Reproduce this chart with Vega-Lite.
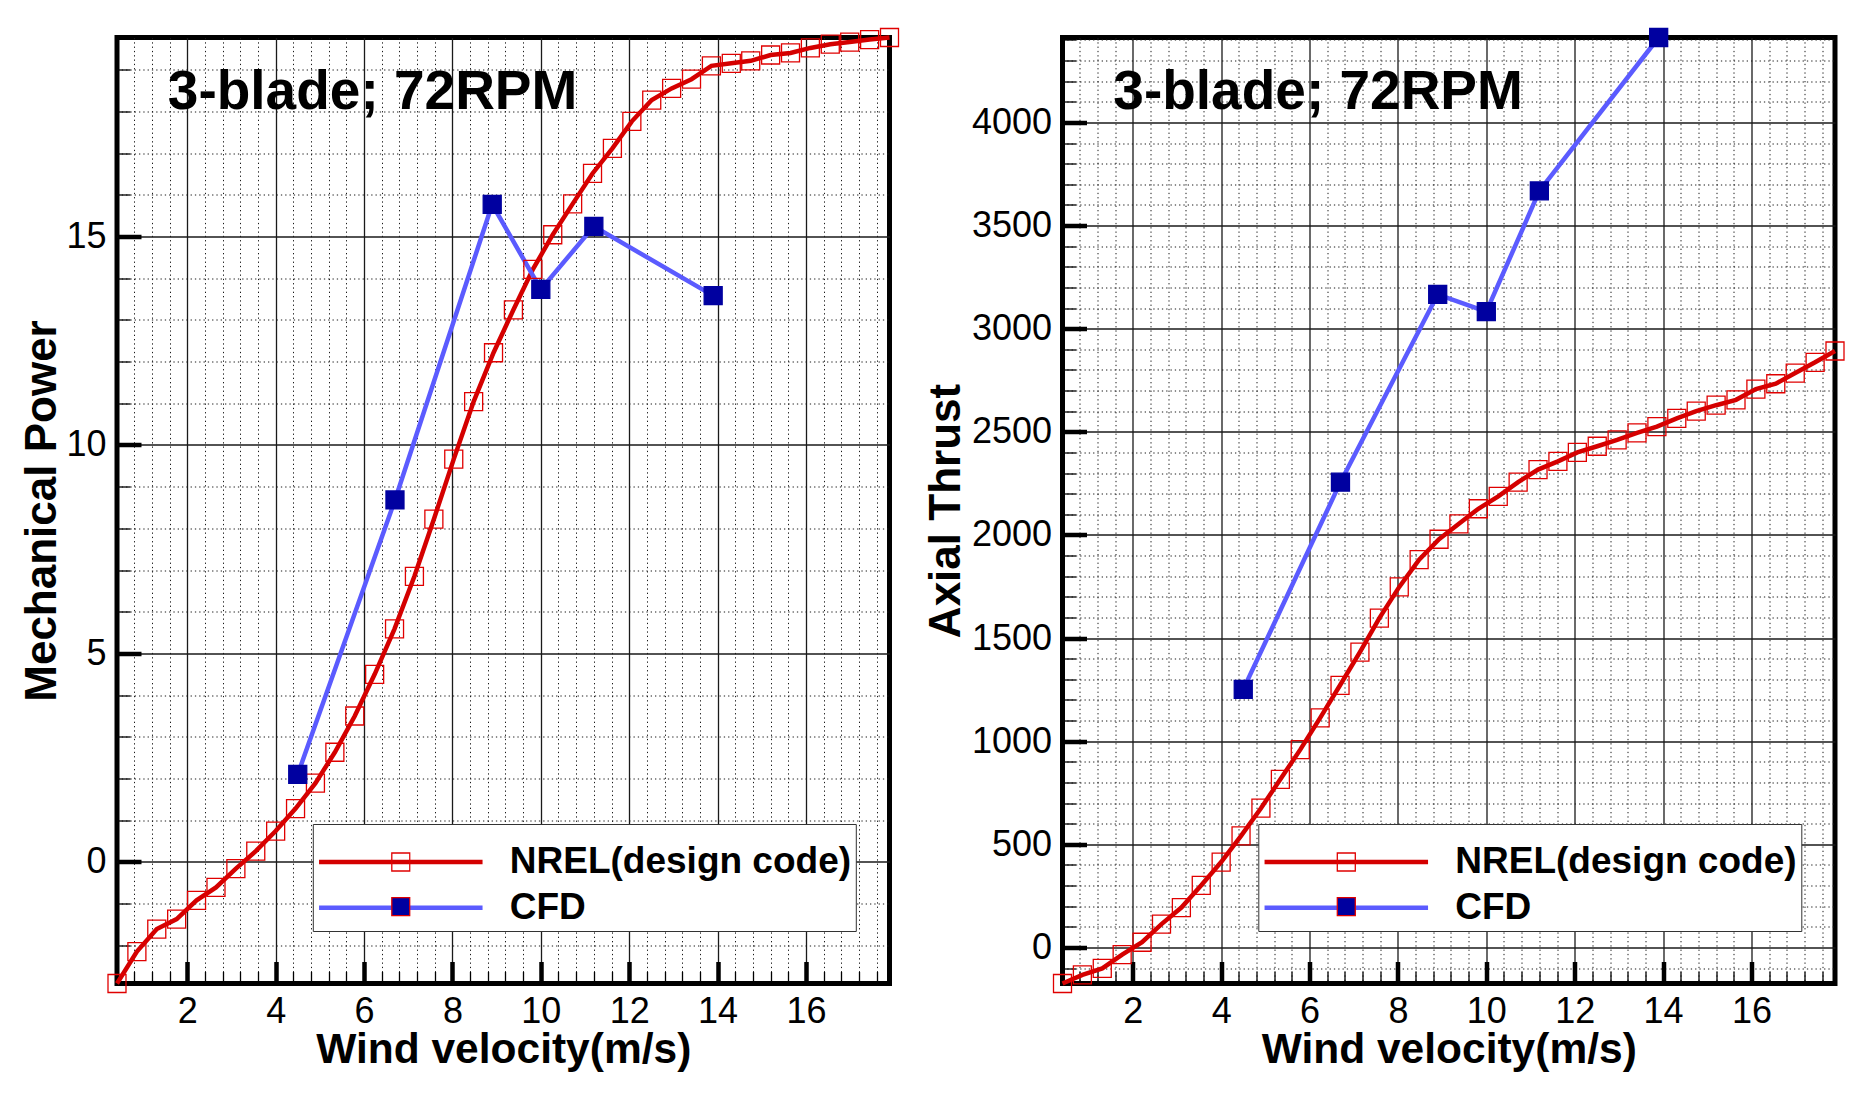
{
  "$schema": "https://vega.github.io/schema/vega-lite/v6.json",
  "background": "white",
  "padding": {"left": 17, "top": 22.5, "right": 0, "bottom": 0},
  "config": {
    "font": "Liberation Sans",
    "view": {"stroke": "black", "strokeWidth": 5},
    "axis": {
      "domain": false,
      "labelFont": "Liberation Sans",
      "labelFontSize": 36,
      "labelColor": "black",
      "titleFont": "Liberation Sans",
      "titleFontWeight": "bold",
      "titleColor": "black",
      "tickColor": "black",
      "labelOverlap": false,
      "labelFlush": false,
      "labelBound": false
    }
  },
  "datasets": {
    "power": [
      {"x": 0.41, "y": -2.915, "series": "NREL(design code)"},
      {"x": 0.86, "y": -2.15, "series": "NREL(design code)"},
      {"x": 1.31, "y": -1.61, "series": "NREL(design code)"},
      {"x": 1.76, "y": -1.37, "series": "NREL(design code)"},
      {"x": 2.21, "y": -0.92, "series": "NREL(design code)"},
      {"x": 2.65, "y": -0.61, "series": "NREL(design code)"},
      {"x": 3.10, "y": -0.16, "series": "NREL(design code)"},
      {"x": 3.55, "y": 0.26, "series": "NREL(design code)"},
      {"x": 4.00, "y": 0.74, "series": "NREL(design code)"},
      {"x": 4.45, "y": 1.28, "series": "NREL(design code)"},
      {"x": 4.90, "y": 1.89, "series": "NREL(design code)"},
      {"x": 5.34, "y": 2.63, "series": "NREL(design code)"},
      {"x": 5.79, "y": 3.50, "series": "NREL(design code)"},
      {"x": 6.24, "y": 4.50, "series": "NREL(design code)"},
      {"x": 6.69, "y": 5.59, "series": "NREL(design code)"},
      {"x": 7.14, "y": 6.85, "series": "NREL(design code)"},
      {"x": 7.58, "y": 8.22, "series": "NREL(design code)"},
      {"x": 8.03, "y": 9.66, "series": "NREL(design code)"},
      {"x": 8.48, "y": 11.04, "series": "NREL(design code)"},
      {"x": 8.93, "y": 12.21, "series": "NREL(design code)"},
      {"x": 9.38, "y": 13.24, "series": "NREL(design code)"},
      {"x": 9.82, "y": 14.21, "series": "NREL(design code)"},
      {"x": 10.27, "y": 15.04, "series": "NREL(design code)"},
      {"x": 10.72, "y": 15.78, "series": "NREL(design code)"},
      {"x": 11.17, "y": 16.51, "series": "NREL(design code)"},
      {"x": 11.62, "y": 17.11, "series": "NREL(design code)"},
      {"x": 12.06, "y": 17.76, "series": "NREL(design code)"},
      {"x": 12.51, "y": 18.27, "series": "NREL(design code)"},
      {"x": 12.96, "y": 18.55, "series": "NREL(design code)"},
      {"x": 13.41, "y": 18.77, "series": "NREL(design code)"},
      {"x": 13.86, "y": 19.09, "series": "NREL(design code)"},
      {"x": 14.31, "y": 19.15, "series": "NREL(design code)"},
      {"x": 14.75, "y": 19.21, "series": "NREL(design code)"},
      {"x": 15.20, "y": 19.35, "series": "NREL(design code)"},
      {"x": 15.65, "y": 19.40, "series": "NREL(design code)"},
      {"x": 16.10, "y": 19.52, "series": "NREL(design code)"},
      {"x": 16.55, "y": 19.61, "series": "NREL(design code)"},
      {"x": 16.99, "y": 19.66, "series": "NREL(design code)"},
      {"x": 17.44, "y": 19.72, "series": "NREL(design code)"},
      {"x": 17.89, "y": 19.77, "series": "NREL(design code)"},
      {"x": 4.5, "y": 2.10, "series": "CFD"},
      {"x": 6.7, "y": 8.68, "series": "CFD"},
      {"x": 8.9, "y": 15.77, "series": "CFD"},
      {"x": 10.0, "y": 13.73, "series": "CFD"},
      {"x": 11.2, "y": 15.24, "series": "CFD"},
      {"x": 13.9, "y": 13.58, "series": "CFD"}
    ],
    "thrust": [
      {"x": 0.41, "y": -175, "series": "NREL(design code)"},
      {"x": 0.86, "y": -133, "series": "NREL(design code)"},
      {"x": 1.31, "y": -102, "series": "NREL(design code)"},
      {"x": 1.76, "y": -35, "series": "NREL(design code)"},
      {"x": 2.21, "y": 25, "series": "NREL(design code)"},
      {"x": 2.65, "y": 113, "series": "NREL(design code)"},
      {"x": 3.10, "y": 193, "series": "NREL(design code)"},
      {"x": 3.55, "y": 301, "series": "NREL(design code)"},
      {"x": 4.00, "y": 414, "series": "NREL(design code)"},
      {"x": 4.45, "y": 541, "series": "NREL(design code)"},
      {"x": 4.90, "y": 675, "series": "NREL(design code)"},
      {"x": 5.34, "y": 815, "series": "NREL(design code)"},
      {"x": 5.79, "y": 959, "series": "NREL(design code)"},
      {"x": 6.24, "y": 1113, "series": "NREL(design code)"},
      {"x": 6.69, "y": 1271, "series": "NREL(design code)"},
      {"x": 7.14, "y": 1432, "series": "NREL(design code)"},
      {"x": 7.58, "y": 1597, "series": "NREL(design code)"},
      {"x": 8.03, "y": 1748, "series": "NREL(design code)"},
      {"x": 8.48, "y": 1880, "series": "NREL(design code)"},
      {"x": 8.93, "y": 1979, "series": "NREL(design code)"},
      {"x": 9.38, "y": 2054, "series": "NREL(design code)"},
      {"x": 9.82, "y": 2127, "series": "NREL(design code)"},
      {"x": 10.27, "y": 2187, "series": "NREL(design code)"},
      {"x": 10.72, "y": 2256, "series": "NREL(design code)"},
      {"x": 11.17, "y": 2317, "series": "NREL(design code)"},
      {"x": 11.62, "y": 2357, "series": "NREL(design code)"},
      {"x": 12.06, "y": 2400, "series": "NREL(design code)"},
      {"x": 12.51, "y": 2430, "series": "NREL(design code)"},
      {"x": 12.96, "y": 2461, "series": "NREL(design code)"},
      {"x": 13.41, "y": 2495, "series": "NREL(design code)"},
      {"x": 13.86, "y": 2525, "series": "NREL(design code)"},
      {"x": 14.31, "y": 2565, "series": "NREL(design code)"},
      {"x": 14.75, "y": 2600, "series": "NREL(design code)"},
      {"x": 15.20, "y": 2629, "series": "NREL(design code)"},
      {"x": 15.65, "y": 2655, "series": "NREL(design code)"},
      {"x": 16.10, "y": 2707, "series": "NREL(design code)"},
      {"x": 16.55, "y": 2733, "series": "NREL(design code)"},
      {"x": 16.99, "y": 2785, "series": "NREL(design code)"},
      {"x": 17.44, "y": 2837, "series": "NREL(design code)"},
      {"x": 17.89, "y": 2892, "series": "NREL(design code)"},
      {"x": 4.5, "y": 1251, "series": "CFD"},
      {"x": 6.7, "y": 2256, "series": "CFD"},
      {"x": 8.9, "y": 3166, "series": "CFD"},
      {"x": 10.0, "y": 3083, "series": "CFD"},
      {"x": 11.2, "y": 3668, "series": "CFD"},
      {"x": 13.9, "y": 4412, "series": "CFD"}
    ]
  },
  "spacing": 172.5,
  "bounds": "flush",
  "resolve": {
    "scale": {"stroke": "independent", "fill": "independent"},
    "legend": {"stroke": "independent", "fill": "independent"}
  },
  "hconcat": [
    {
      "width": 772.5,
      "height": 946,
      "data": {"name": "power"},
      "layer": [
        {
          "mark": {"type": "line", "strokeWidth": 4.5},
          "encoding": {
            "x": {"field": "x", "type": "quantitative", "scale": {"domain": [0.41, 17.89], "nice": false, "zero": false},
              "axis": {"values": [2, 4, 6, 8, 10, 12, 14, 16], "format": "d", "grid": true, "gridColor": "#1a1a1a", "gridWidth": 1.3, "tickSize": -22, "tickWidth": 4.5, "labelPadding": 33, "title": "Wind velocity(m/s)", "titleFontSize": 42.5, "titleX": 386.25, "titleY": 79, "titleBaseline": "alphabetic", "titleAlign": "center", "titleAngle": 0}},
            "y": {"field": "y", "type": "quantitative", "scale": {"domain": [-2.915, 19.77], "nice": false, "zero": false},
              "axis": {"values": [0, 5, 10, 15], "format": "d", "grid": true, "gridColor": "#1a1a1a", "gridWidth": 1.3, "tickSize": -24, "tickWidth": 4.5, "labelPadding": 35, "title": "Mechanical Power", "titleFontSize": 44, "titleX": -61.7, "titleY": 473, "titleAngle": 270, "titleBaseline": "alphabetic", "titleAlign": "center"}},
            "stroke": {"field": "series", "type": "nominal", "scale": {"domain": ["NREL(design code)", "CFD"], "range": ["#d40000", "#5b5bff"]},
              "legend": {"orient": "none", "legendX": 195.8, "legendY": 786.5, "direction": "vertical", "title": " ", "titleFontSize": 10, "titlePadding": 5.5, "symbolType": "stroke", "symbolSize": 26732, "symbolStrokeWidth": 4.5, "symbolOpacity": 1, "labelFont": "Liberation Sans", "labelFontSize": 37, "labelFontWeight": "bold", "labelColor": "black", "labelLimit": 1000, "labelOffset": 25, "padding": 4, "rowPadding": 7.7, "clipHeight": 37, "fillColor": "white", "strokeColor": "#333333", "encode": {"legend": {"strokeWidth": {"value": 1.3}}}}}
          }
        },
        {
          "mark": {"type": "point", "shape": "square", "size": 324, "strokeWidth": 1.3, "filled": true, "opacity": 1},
          "encoding": {
            "x": {"field": "x", "type": "quantitative", "scale": {"domain": [0.41, 17.89], "nice": false, "zero": false},
              "axis": {"orient": "bottom", "values": [0.8, 1.2, 1.6, 2.4, 2.8, 3.2, 3.6, 4.4, 4.8, 5.2, 5.6, 6.4, 6.8, 7.2, 7.6, 8.4, 8.8, 9.2, 9.6, 10.4, 10.8, 11.2, 11.6, 12.4, 12.8, 13.2, 13.6, 14.4, 14.8, 15.2, 15.6, 16.4, 16.8, 17.2, 17.6], "grid": true, "gridColor": "#1a1a1a", "gridWidth": 1, "gridDash": [1.3, 3], "tickSize": -12, "tickWidth": 1.3, "labels": false, "title": null}},
            "y": {"field": "y", "type": "quantitative", "scale": {"domain": [-2.915, 19.77], "nice": false, "zero": false},
              "axis": {"orient": "left", "values": [-2, -1, 1, 2, 3, 4, 6, 7, 8, 9, 11, 12, 13, 14, 16, 17, 18, 19], "grid": true, "gridColor": "#1a1a1a", "gridWidth": 1, "gridDash": [1.3, 3], "tickSize": -13, "tickWidth": 1.3, "labels": false, "title": null}},
            "fill": {"field": "series", "type": "nominal", "sort": ["NREL(design code)", "CFD"], "scale": {"range": ["rgba(255,255,255,0)", "#0000a0"]},
              "legend": {"orient": "none", "legendX": 195.8, "legendY": 786.5, "direction": "vertical", "title": " ", "titleFontSize": 10, "titlePadding": 5.5, "symbolType": "square", "symbolSize": 324, "symbolStrokeWidth": 1.3, "symbolOpacity": 1, "symbolOffset": 74, "labelFontSize": 1, "labelExpr": "''", "labelOffset": 0, "padding": 4, "rowPadding": 7.7, "clipHeight": 37, "fillColor": "rgba(255,255,255,0)", "strokeColor": "rgba(255,255,255,0)",
                "encode": {"symbols": {"stroke": {"condition": {"test": "datum.value === 'CFD'", "value": "#0000a0"}, "value": "#e00000"}}}}},
            "stroke": {"condition": {"test": "datum.series === 'CFD'", "value": "#0000a0"}, "value": "#e00000"}
          }
        },
        {
          "data": {"values": [{}]},
          "mark": {"type": "text", "text": "3-blade; 72RPM", "fontSize": 55, "fontWeight": "bold", "align": "left", "baseline": "alphabetic", "color": "black"},
          "encoding": {
            "x": {"datum": 1.56, "type": "quantitative", "scale": {"domain": [0.41, 17.89], "nice": false, "zero": false}, "axis": null},
            "y": {"datum": 18.05, "type": "quantitative", "scale": {"domain": [-2.915, 19.77], "nice": false, "zero": false}, "axis": null}
          }
        }
      ],
      "resolve": {"axis": {"x": "independent", "y": "independent"}}
    },
    {
      "width": 772.5,
      "height": 946,
      "data": {"name": "thrust"},
      "layer": [
        {
          "mark": {"type": "line", "strokeWidth": 4.5},
          "encoding": {
            "x": {"field": "x", "type": "quantitative", "scale": {"domain": [0.41, 17.89], "nice": false, "zero": false},
              "axis": {"values": [2, 4, 6, 8, 10, 12, 14, 16], "format": "d", "grid": true, "gridColor": "#1a1a1a", "gridWidth": 1.3, "tickSize": -22, "tickWidth": 4.5, "labelPadding": 33, "title": "Wind velocity(m/s)", "titleFontSize": 42.5, "titleX": 386.25, "titleY": 79, "titleBaseline": "alphabetic", "titleAlign": "center", "titleAngle": 0}},
            "y": {"field": "y", "type": "quantitative", "scale": {"domain": [-175, 4412], "nice": false, "zero": false},
              "axis": {"values": [0, 500, 1000, 1500, 2000, 2500, 3000, 3500, 4000], "format": "d", "grid": true, "gridColor": "#1a1a1a", "gridWidth": 1.3, "tickSize": -24, "tickWidth": 4.5, "labelPadding": 35, "title": "Axial Thrust", "titleFontSize": 44, "titleX": -103.5, "titleY": 473, "titleAngle": 270, "titleBaseline": "alphabetic", "titleAlign": "center"}},
            "stroke": {"field": "series", "type": "nominal", "scale": {"domain": ["NREL(design code)", "CFD"], "range": ["#d40000", "#5b5bff"]},
              "legend": {"orient": "none", "legendX": 195.8, "legendY": 786.5, "direction": "vertical", "title": " ", "titleFontSize": 10, "titlePadding": 5.5, "symbolType": "stroke", "symbolSize": 26732, "symbolStrokeWidth": 4.5, "symbolOpacity": 1, "labelFont": "Liberation Sans", "labelFontSize": 37, "labelFontWeight": "bold", "labelColor": "black", "labelLimit": 1000, "labelOffset": 25, "padding": 4, "rowPadding": 7.7, "clipHeight": 37, "fillColor": "white", "strokeColor": "#333333", "encode": {"legend": {"strokeWidth": {"value": 1.3}}}}}
          }
        },
        {
          "mark": {"type": "point", "shape": "square", "size": 324, "strokeWidth": 1.3, "filled": true, "opacity": 1},
          "encoding": {
            "x": {"field": "x", "type": "quantitative", "scale": {"domain": [0.41, 17.89], "nice": false, "zero": false},
              "axis": {"orient": "bottom", "values": [0.8, 1.2, 1.6, 2.4, 2.8, 3.2, 3.6, 4.4, 4.8, 5.2, 5.6, 6.4, 6.8, 7.2, 7.6, 8.4, 8.8, 9.2, 9.6, 10.4, 10.8, 11.2, 11.6, 12.4, 12.8, 13.2, 13.6, 14.4, 14.8, 15.2, 15.6, 16.4, 16.8, 17.2, 17.6], "grid": true, "gridColor": "#1a1a1a", "gridWidth": 1, "gridDash": [1.3, 3], "tickSize": -12, "tickWidth": 1.3, "labels": false, "title": null}},
            "y": {"field": "y", "type": "quantitative", "scale": {"domain": [-175, 4412], "nice": false, "zero": false},
              "axis": {"orient": "left", "values": [-100, 100, 200, 300, 400, 600, 700, 800, 900, 1100, 1200, 1300, 1400, 1600, 1700, 1800, 1900, 2100, 2200, 2300, 2400, 2600, 2700, 2800, 2900, 3100, 3200, 3300, 3400, 3600, 3700, 3800, 3900, 4100, 4200, 4300, 4400], "grid": true, "gridColor": "#1a1a1a", "gridWidth": 1, "gridDash": [1.3, 3], "tickSize": -13, "tickWidth": 1.3, "labels": false, "title": null}},
            "fill": {"field": "series", "type": "nominal", "sort": ["NREL(design code)", "CFD"], "scale": {"range": ["rgba(255,255,255,0)", "#0000a0"]},
              "legend": {"orient": "none", "legendX": 195.8, "legendY": 786.5, "direction": "vertical", "title": " ", "titleFontSize": 10, "titlePadding": 5.5, "symbolType": "square", "symbolSize": 324, "symbolStrokeWidth": 1.3, "symbolOpacity": 1, "symbolOffset": 74, "labelFontSize": 1, "labelExpr": "''", "labelOffset": 0, "padding": 4, "rowPadding": 7.7, "clipHeight": 37, "fillColor": "rgba(255,255,255,0)", "strokeColor": "rgba(255,255,255,0)",
                "encode": {"symbols": {"stroke": {"condition": {"test": "datum.value === 'CFD'", "value": "#0000a0"}, "value": "#e00000"}}}}},
            "stroke": {"condition": {"test": "datum.series === 'CFD'", "value": "#0000a0"}, "value": "#e00000"}
          }
        },
        {
          "data": {"values": [{}]},
          "mark": {"type": "text", "text": "3-blade; 72RPM", "fontSize": 55, "fontWeight": "bold", "align": "left", "baseline": "alphabetic", "color": "black"},
          "encoding": {
            "x": {"datum": 1.56, "type": "quantitative", "scale": {"domain": [0.41, 17.89], "nice": false, "zero": false}, "axis": null},
            "y": {"datum": 4064, "type": "quantitative", "scale": {"domain": [-175, 4412], "nice": false, "zero": false}, "axis": null}
          }
        }
      ],
      "resolve": {"axis": {"x": "independent", "y": "independent"}}
    }
  ]
}
